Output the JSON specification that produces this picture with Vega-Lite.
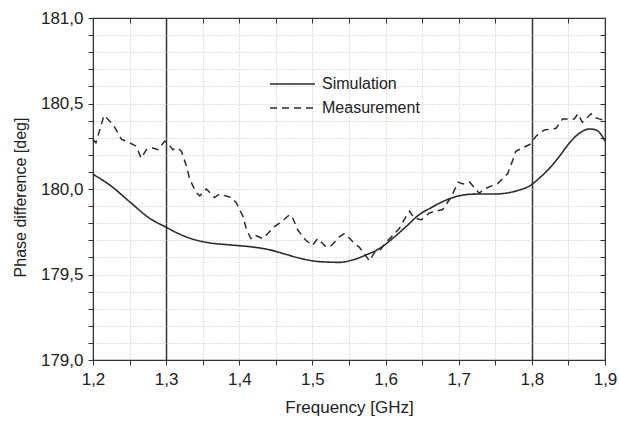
{
  "$schema": "https://vega.github.io/schema/vega-lite/v6.json",
  "width": 512,
  "height": 342,
  "autosize": "none",
  "padding": {"left": 93, "top": 18, "right": 14, "bottom": 62},
  "background": "white",
  "config": {
    "font": "Liberation Sans",
    "view": {"stroke": "#333", "strokeWidth": 1.2},
    "axis": {"domainColor": "#333", "tickColor": "#333", "labelColor": "#222", "titleColor": "#222", "titleFontWeight": "normal"}
  },
  "datasets": {
    "sim": [
      {"f": 1.2, "v": 180.086}, {"f": 1.223, "v": 180.023}, {"f": 1.25, "v": 179.926}, {"f": 1.277, "v": 179.83},
      {"f": 1.3, "v": 179.776}, {"f": 1.318, "v": 179.737}, {"f": 1.337, "v": 179.706}, {"f": 1.355, "v": 179.688},
      {"f": 1.387, "v": 179.673}, {"f": 1.414, "v": 179.663}, {"f": 1.441, "v": 179.645}, {"f": 1.462, "v": 179.62},
      {"f": 1.483, "v": 179.595}, {"f": 1.51, "v": 179.575}, {"f": 1.537, "v": 179.571}, {"f": 1.555, "v": 179.585},
      {"f": 1.573, "v": 179.614}, {"f": 1.592, "v": 179.653}, {"f": 1.61, "v": 179.712}, {"f": 1.628, "v": 179.78},
      {"f": 1.646, "v": 179.85}, {"f": 1.662, "v": 179.89}, {"f": 1.678, "v": 179.926}, {"f": 1.696, "v": 179.955},
      {"f": 1.715, "v": 179.969}, {"f": 1.733, "v": 179.971}, {"f": 1.751, "v": 179.971}, {"f": 1.769, "v": 179.979},
      {"f": 1.783, "v": 179.994}, {"f": 1.797, "v": 180.018}, {"f": 1.81, "v": 180.063}, {"f": 1.824, "v": 180.121},
      {"f": 1.838, "v": 180.193}, {"f": 1.851, "v": 180.267}, {"f": 1.865, "v": 180.326}, {"f": 1.879, "v": 180.351},
      {"f": 1.888, "v": 180.345}, {"f": 1.895, "v": 180.316}, {"f": 1.9, "v": 180.28}
    ],
    "meas": [
      {"f": 1.2, "v": 180.29}, {"f": 1.204, "v": 180.27}, {"f": 1.215, "v": 180.43}, {"f": 1.227, "v": 180.38},
      {"f": 1.239, "v": 180.29}, {"f": 1.246, "v": 180.28}, {"f": 1.259, "v": 180.25}, {"f": 1.266, "v": 180.18},
      {"f": 1.273, "v": 180.23}, {"f": 1.282, "v": 180.24}, {"f": 1.289, "v": 180.23}, {"f": 1.298, "v": 180.28},
      {"f": 1.302, "v": 180.27}, {"f": 1.309, "v": 180.23}, {"f": 1.316, "v": 180.24}, {"f": 1.321, "v": 180.22},
      {"f": 1.328, "v": 180.13}, {"f": 1.332, "v": 180.06}, {"f": 1.341, "v": 179.98}, {"f": 1.346, "v": 179.96},
      {"f": 1.355, "v": 180.0}, {"f": 1.366, "v": 179.95}, {"f": 1.373, "v": 179.97}, {"f": 1.389, "v": 179.95},
      {"f": 1.396, "v": 179.92}, {"f": 1.405, "v": 179.84}, {"f": 1.41, "v": 179.76}, {"f": 1.416, "v": 179.71},
      {"f": 1.421, "v": 179.73}, {"f": 1.432, "v": 179.71}, {"f": 1.439, "v": 179.74}, {"f": 1.448, "v": 179.78},
      {"f": 1.455, "v": 179.8}, {"f": 1.469, "v": 179.85}, {"f": 1.473, "v": 179.83}, {"f": 1.48, "v": 179.76},
      {"f": 1.491, "v": 179.7}, {"f": 1.5, "v": 179.67}, {"f": 1.507, "v": 179.71}, {"f": 1.519, "v": 179.66},
      {"f": 1.526, "v": 179.67}, {"f": 1.537, "v": 179.72}, {"f": 1.544, "v": 179.74}, {"f": 1.551, "v": 179.71},
      {"f": 1.558, "v": 179.68}, {"f": 1.564, "v": 179.66}, {"f": 1.578, "v": 179.58}, {"f": 1.585, "v": 179.63},
      {"f": 1.592, "v": 179.64}, {"f": 1.601, "v": 179.69}, {"f": 1.608, "v": 179.72}, {"f": 1.619, "v": 179.77},
      {"f": 1.628, "v": 179.84}, {"f": 1.633, "v": 179.87}, {"f": 1.639, "v": 179.83}, {"f": 1.649, "v": 179.82},
      {"f": 1.66, "v": 179.86}, {"f": 1.678, "v": 179.88}, {"f": 1.69, "v": 179.955}, {"f": 1.699, "v": 180.04},
      {"f": 1.706, "v": 180.03}, {"f": 1.715, "v": 180.04}, {"f": 1.721, "v": 180.01}, {"f": 1.728, "v": 179.975},
      {"f": 1.735, "v": 180.0}, {"f": 1.746, "v": 180.02}, {"f": 1.753, "v": 180.03}, {"f": 1.767, "v": 180.09},
      {"f": 1.774, "v": 180.17}, {"f": 1.778, "v": 180.22}, {"f": 1.787, "v": 180.24}, {"f": 1.797, "v": 180.26},
      {"f": 1.806, "v": 180.31}, {"f": 1.817, "v": 180.345}, {"f": 1.833, "v": 180.355}, {"f": 1.842, "v": 180.41},
      {"f": 1.849, "v": 180.41}, {"f": 1.858, "v": 180.41}, {"f": 1.863, "v": 180.44}, {"f": 1.869, "v": 180.39},
      {"f": 1.881, "v": 180.44}, {"f": 1.885, "v": 180.42}, {"f": 1.892, "v": 180.41}, {"f": 1.9, "v": 180.4}
    ]
  },
  "layer": [
    {
      "data": {"name": "sim"},
      "mark": {"type": "line", "interpolate": "monotone", "color": "#2b2b2b", "strokeWidth": 1.6},
      "encoding": {
        "x": {
          "field": "f", "type": "quantitative",
          "scale": {"domain": [1.2, 1.9], "nice": false, "zero": false},
          "axis": {
            "orient": "bottom",
            "values": [1.2, 1.25, 1.3, 1.35, 1.4, 1.45, 1.5, 1.55, 1.6, 1.65, 1.7, 1.75, 1.8, 1.85, 1.9],
            "labelExpr": "abs(datum.value*10 - round(datum.value*10)) < 0.01 ? replace(format(datum.value, '.1f'), '.', ',') : ''",
            "title": "Frequency [GHz]",
            "grid": true,
            "gridColor": {"condition": {"test": "abs(datum.value-1.3)<0.001 || abs(datum.value-1.8)<0.001", "value": "#333"}, "value": "#c4c4c4"},
            "gridDash": {"condition": {"test": "abs(datum.value-1.3)<0.001 || abs(datum.value-1.8)<0.001", "value": []}, "value": [1, 2]},
            "gridWidth": {"condition": {"test": "abs(datum.value-1.3)<0.001 || abs(datum.value-1.8)<0.001", "value": 1.5}, "value": 1},
            "tickSize": 5,
            "labelPadding": 6,
            "labelFontSize": 17,
            "labelFlush": false,
            "labelOverlap": false,
            "titleFontSize": 17,
            "titlePadding": 12
          }
        },
        "y": {
          "field": "v", "type": "quantitative",
          "scale": {"domain": [179, 181], "nice": false, "zero": false},
          "axis": {
            "orient": "left",
            "values": [179, 179.1, 179.2, 179.3, 179.4, 179.5, 179.6, 179.7, 179.8, 179.9, 180, 180.1, 180.2, 180.3, 180.4, 180.5, 180.6, 180.7, 180.8, 180.9, 181],
            "labelExpr": "abs(datum.value*2 - round(datum.value*2)) < 0.01 ? replace(format(datum.value, '.1f'), '.', ',') : ''",
            "title": "Phase difference [deg]",
            "grid": true,
            "gridColor": "#c4c4c4",
            "gridDash": [1, 2],
            "tickSize": 5,
            "labelPadding": 5,
            "labelFontSize": 17,
            "labelFlush": false,
            "labelOverlap": false,
            "titleFontSize": 16,
            "titlePadding": 12,
            "titleY": 179
          }
        },
        "strokeDash": {
          "datum": "Simulation",
          "type": "nominal",
          "scale": {"domain": ["Simulation", "Measurement"], "range": [[1, 0], [7, 5]]},
          "legend": {
            "orient": "none", "legendX": 176, "legendY": 58, "title": null,
            "symbolType": "stroke", "symbolSize": 2025, "symbolStrokeColor": "#2b2b2b", "symbolStrokeWidth": 1.6,
            "clipHeight": 16, "rowPadding": 8, "labelFontSize": 16, "labelColor": "#222", "labelOffset": 6
          }
        }
      }
    },
    {
      "data": {"name": "meas"},
      "mark": {"type": "line", "color": "#2b2b2b", "strokeWidth": 1.5},
      "encoding": {
        "x": {
          "field": "f", "type": "quantitative",
          "scale": {"domain": [1.2, 1.9], "nice": false, "zero": false},
          "axis": {
            "orient": "top",
            "values": [1.2, 1.25, 1.3, 1.35, 1.4, 1.45, 1.5, 1.55, 1.6, 1.65, 1.7, 1.75, 1.8, 1.85, 1.9],
            "labels": false, "title": null, "grid": false, "tickSize": -5
          }
        },
        "y": {
          "field": "v", "type": "quantitative",
          "scale": {"domain": [179, 181], "nice": false, "zero": false},
          "axis": {
            "orient": "right",
            "values": [179, 179.1, 179.2, 179.3, 179.4, 179.5, 179.6, 179.7, 179.8, 179.9, 180, 180.1, 180.2, 180.3, 180.4, 180.5, 180.6, 180.7, 180.8, 180.9, 181],
            "labels": false, "title": null, "grid": false, "tickSize": -5
          }
        },
        "strokeDash": {"datum": "Measurement", "type": "nominal"}
      }
    }
  ],
  "resolve": {"axis": {"x": "independent", "y": "independent"}}
}
